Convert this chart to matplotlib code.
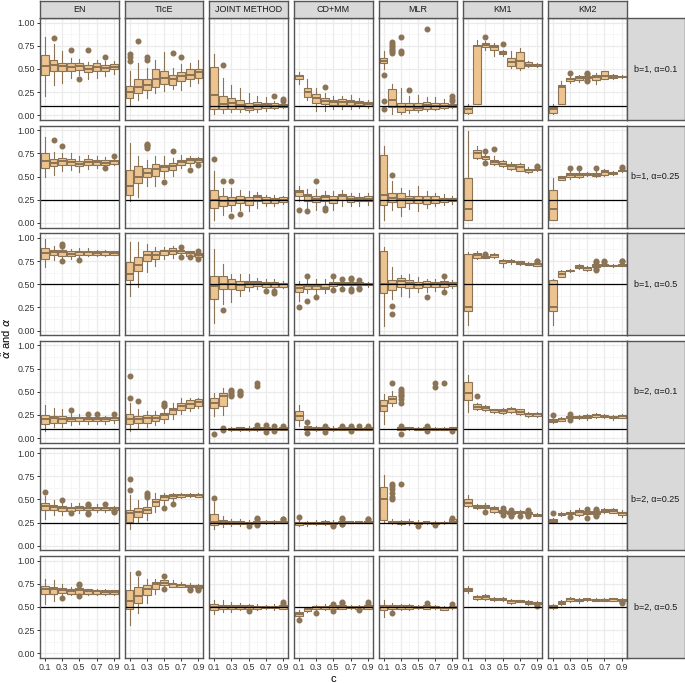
import matplotlib
matplotlib.use("Agg")
import matplotlib.pyplot as plt

plt.rcParams['font.family'] = ['Liberation Sans', 'DejaVu Sans']

c_values = [0.1, 0.2, 0.3, 0.4, 0.5, 0.6, 0.7, 0.8, 0.9]
c_tick_labels = ["0.1", "0.3", "0.5", "0.7", "0.9"]
methods = ["EN", "TIcE", "JOINT METHOD", "CD+MM", "MLR", "KM1", "KM2"]
row_labels = ["b=1, α=0.1", "b=1, α=0.25", "b=1, α=0.5",
              "b=2, α=0.1", "b=2, α=0.25", "b=2, α=0.5"]
alpha_true = [0.1, 0.25, 0.5, 0.1, 0.25, 0.5]
y_ticks = [0.00, 0.25, 0.50, 0.75, 1.00]

# box summaries per c: (whisker low, Q1, median, Q3, whisker high); outliers keyed by c
# ---------------- b=1, alpha=0.1 ----------------
EN_r1 = [(0.21, 0.43, 0.53, 0.65, 0.85), (0.33, 0.48, 0.54, 0.60, 0.77), (0.35, 0.48, 0.53, 0.57, 0.69),
         (0.40, 0.48, 0.52, 0.56, 0.62), (0.44, 0.49, 0.53, 0.57, 0.61), (0.39, 0.47, 0.50, 0.54, 0.58),
         (0.40, 0.48, 0.52, 0.56, 0.60), (0.42, 0.48, 0.51, 0.54, 0.59), (0.45, 0.50, 0.52, 0.55, 0.59)]
EN_r1_out = {0.2: [0.83], 0.4: [0.71], 0.5: [0.39], 0.6: [0.70], 0.8: [0.63]}
TIcE_r1 = [(0.11, 0.19, 0.25, 0.32, 0.48), (0.17, 0.24, 0.31, 0.39, 0.57), (0.19, 0.27, 0.33, 0.39, 0.51),
           (0.24, 0.31, 0.39, 0.50, 0.60), (0.26, 0.34, 0.40, 0.48, 0.68), (0.28, 0.33, 0.39, 0.44, 0.51),
           (0.27, 0.37, 0.42, 0.47, 0.55), (0.32, 0.39, 0.43, 0.50, 0.57), (0.35, 0.40, 0.47, 0.50, 0.60)]
TIcE_r1_out = {0.1: [0.59, 0.63, 0.66], 0.2: [0.80], 0.3: [0.60, 0.63], 0.6: [0.67], 0.7: [0.63]}
JOINT_r1 = [(0.01, 0.065, 0.215, 0.52, 0.66), (0.03, 0.065, 0.12, 0.21, 0.40), (0.035, 0.07, 0.13, 0.19, 0.33),
            (0.035, 0.065, 0.11, 0.165, 0.29), (0.035, 0.055, 0.08, 0.13, 0.24), (0.035, 0.065, 0.11, 0.14, 0.21),
            (0.05, 0.08, 0.11, 0.135, 0.20), (0.065, 0.08, 0.10, 0.13, 0.16), (0.075, 0.09, 0.10, 0.118, 0.14)]
JOINT_r1_out = {0.2: [0.54], 0.8: [0.21], 0.9: [0.16, 0.18]}
CDMM_r1 = [(0.34, 0.39, 0.42, 0.44, 0.47), (0.17, 0.20, 0.25, 0.29, 0.39), (0.05, 0.13, 0.19, 0.23, 0.30),
           (0.05, 0.12, 0.15, 0.19, 0.24), (0.065, 0.11, 0.14, 0.17, 0.21), (0.065, 0.115, 0.14, 0.175, 0.21),
           (0.07, 0.11, 0.14, 0.17, 0.215), (0.08, 0.11, 0.13, 0.16, 0.19), (0.08, 0.10, 0.12, 0.14, 0.17)]
CDMM_r1_out = {0.4: [0.31]}
MLR_r1 = [(0.50, 0.56, 0.59, 0.62, 0.69), (0.02, 0.09, 0.17, 0.28, 0.34), (0.02, 0.035, 0.09, 0.135, 0.30),
          (0.03, 0.055, 0.09, 0.135, 0.21), (0.035, 0.055, 0.08, 0.13, 0.225), (0.045, 0.07, 0.11, 0.14, 0.20),
          (0.055, 0.07, 0.10, 0.13, 0.195), (0.065, 0.08, 0.10, 0.13, 0.18), (0.08, 0.09, 0.105, 0.12, 0.136)]
MLR_r1_out = {0.1: [0.43, 0.155, 0.07], 0.2: [0.67, 0.69, 0.71, 0.73, 0.75, 0.77, 0.79],
              0.3: [0.67, 0.69, 0.84], 0.4: [0.27], 0.6: [0.93], 0.9: [0.15, 0.18, 0.21]}
KM1_r1 = [(0.018, 0.029, 0.065, 0.10, 0.118), (0.125, 0.125, 0.746, 0.763, 0.817), (0.71, 0.738, 0.763, 0.78, 0.80),
          (0.638, 0.71, 0.735, 0.763, 0.78), (0.638, 0.663, 0.674, 0.69, 0.71), (0.513, 0.53, 0.573, 0.62, 0.69),
          (0.484, 0.513, 0.584, 0.685, 0.727), (0.52, 0.53, 0.548, 0.573, 0.584), (0.524, 0.53, 0.541, 0.556, 0.566)]
KM1_r1_out = {0.3: [0.84], 0.5: [0.774]}
KM2_r1 = [(0.018, 0.029, 0.065, 0.093, 0.118), (0.125, 0.125, 0.305, 0.323, 0.369), (0.35, 0.373, 0.387, 0.40, 0.43),
          (0.36, 0.376, 0.40, 0.423, 0.44), (0.39, 0.40, 0.41, 0.425, 0.43), (0.34, 0.376, 0.416, 0.44, 0.459),
          (0.387, 0.387, 0.423, 0.477, 0.48), (0.39, 0.398, 0.416, 0.434, 0.441), (0.405, 0.412, 0.419, 0.426, 0.43)]
KM2_r1_out = {0.3: [0.452], 0.5: [0.375, 0.385, 0.445, 0.455]}

# ---------------- b=1, alpha=0.25 ----------------
EN_r2 = [(0.50, 0.59, 0.665, 0.75, 0.93), (0.52, 0.61, 0.647, 0.69, 0.77), (0.557, 0.62, 0.665, 0.70, 0.755),
         (0.575, 0.622, 0.658, 0.694, 0.755), (0.547, 0.61, 0.64, 0.665, 0.72), (0.583, 0.63, 0.658, 0.69, 0.737),
         (0.594, 0.63, 0.658, 0.683, 0.72), (0.61, 0.622, 0.647, 0.676, 0.709), (0.63, 0.64, 0.665, 0.683, 0.70)]
EN_r2_out = {0.2: [0.89], 0.3: [0.835], 0.8: [0.59], 0.9: [0.727]}
TIcE_r2 = [(0.234, 0.306, 0.403, 0.575, 0.863), (0.277, 0.432, 0.493, 0.61, 0.72), (0.396, 0.493, 0.54, 0.594, 0.683),
           (0.396, 0.504, 0.583, 0.637, 0.72), (0.486, 0.558, 0.60, 0.63, 0.72), (0.504, 0.568, 0.61, 0.647, 0.705),
           (0.594, 0.622, 0.655, 0.683, 0.737), (0.61, 0.647, 0.683, 0.70, 0.72), (0.647, 0.658, 0.683, 0.70, 0.709)]
TIcE_r2_out = {0.3: [0.81, 0.825, 0.84, 0.855], 0.5: [0.439], 0.6: [0.773], 0.8: [0.575], 0.9: [0.63]}
JOINT_r2 = [(0.03, 0.162, 0.252, 0.36, 0.558), (0.09, 0.187, 0.241, 0.288, 0.378), (0.126, 0.198, 0.234, 0.28, 0.378),
            (0.144, 0.216, 0.252, 0.288, 0.36), (0.126, 0.198, 0.234, 0.28, 0.342), (0.162, 0.241, 0.277, 0.30, 0.331),
            (0.18, 0.216, 0.252, 0.28, 0.306), (0.18, 0.216, 0.245, 0.27, 0.306), (0.209, 0.227, 0.252, 0.277, 0.288)]
JOINT_r2_out = {0.1: [0.69], 0.2: [0.457], 0.3: [0.457, 0.08], 0.4: [0.097]}
CDMM_r2 = [(0.234, 0.288, 0.331, 0.36, 0.403), (0.162, 0.234, 0.288, 0.317, 0.367), (0.144, 0.223, 0.259, 0.295, 0.367),
           (0.18, 0.234, 0.28, 0.306, 0.342), (0.144, 0.216, 0.252, 0.288, 0.342), (0.18, 0.252, 0.288, 0.313, 0.36),
           (0.18, 0.227, 0.259, 0.288, 0.324), (0.187, 0.234, 0.259, 0.28, 0.324), (0.198, 0.234, 0.263, 0.288, 0.324)]
CDMM_r2_out = {0.1: [0.144], 0.2: [0.126], 0.3: [0.45], 0.4: [0.137, 0.162]}
MLR_r2 = [(0.03, 0.198, 0.306, 0.737, 0.827), (0.144, 0.223, 0.27, 0.324, 0.45), (0.08, 0.173, 0.259, 0.324, 0.378),
          (0.151, 0.216, 0.259, 0.295, 0.36), (0.126, 0.216, 0.252, 0.295, 0.396), (0.162, 0.209, 0.252, 0.295, 0.342),
          (0.18, 0.216, 0.252, 0.288, 0.324), (0.198, 0.227, 0.252, 0.27, 0.313), (0.209, 0.234, 0.252, 0.27, 0.295)]
MLR_r2_out = {0.2: [0.52]}
KM1_r2 = [(0.036, 0.036, 0.151, 0.486, 0.99), (0.691, 0.70, 0.755, 0.784, 0.827), (0.66, 0.69, 0.709, 0.727, 0.76),
          (0.63, 0.64, 0.658, 0.683, 0.72), (0.60, 0.61, 0.64, 0.665, 0.683), (0.568, 0.583, 0.619, 0.637, 0.658),
          (0.558, 0.558, 0.60, 0.637, 0.647), (0.54, 0.55, 0.568, 0.586, 0.601), (0.565, 0.57, 0.576, 0.585, 0.595)]
KM1_r2_out = {0.3: [0.78, 0.647], 0.4: [0.80], 0.9: [0.605, 0.61]}
KM2_r2 = [(0.036, 0.036, 0.151, 0.36, 0.486), (0.46, 0.468, 0.486, 0.504, 0.511), (0.478, 0.493, 0.522, 0.54, 0.576),
          (0.486, 0.493, 0.514, 0.54, 0.568), (0.511, 0.515, 0.53, 0.54, 0.547), (0.493, 0.504, 0.522, 0.54, 0.558),
          (0.504, 0.522, 0.547, 0.568, 0.583), (0.522, 0.525, 0.54, 0.55, 0.558), (0.55, 0.558, 0.565, 0.576, 0.585)]
KM2_r2_out = {0.3: [0.594], 0.4: [0.594], 0.6: [0.594], 0.9: [0.594, 0.60]}

# ---------------- b=1, alpha=0.5 ----------------
EN_r3 = [(0.69, 0.773, 0.835, 0.892, 0.99), (0.763, 0.81, 0.845, 0.87, 0.917), (0.784, 0.80, 0.845, 0.87, 0.90),
         (0.773, 0.80, 0.827, 0.856, 0.881), (0.79, 0.81, 0.845, 0.863, 0.89), (0.80, 0.82, 0.845, 0.863, 0.888),
         (0.80, 0.82, 0.835, 0.856, 0.87), (0.80, 0.817, 0.845, 0.86, 0.87), (0.81, 0.82, 0.838, 0.856, 0.863)]
EN_r3_out = {0.3: [0.748, 0.91, 0.935], 0.5: [0.766]}
TIcE_r3 = [(0.378, 0.54, 0.61, 0.737, 0.953), (0.475, 0.647, 0.712, 0.79, 0.953), (0.63, 0.745, 0.81, 0.863, 0.935),
           (0.70, 0.773, 0.81, 0.856, 0.90), (0.773, 0.82, 0.853, 0.87, 0.90), (0.784, 0.827, 0.863, 0.892, 0.91),
           (0.81, 0.835, 0.853, 0.863, 0.881), (0.80, 0.80, 0.835, 0.853, 0.863), (0.784, 0.79, 0.816, 0.835, 0.845)]
TIcE_r3_out = {0.7: [0.90, 0.79], 0.8: [0.79], 0.9: [0.856, 0.773]}
JOINT_r3 = [(0.086, 0.345, 0.482, 0.59, 0.878), (0.284, 0.453, 0.50, 0.59, 0.723), (0.31, 0.446, 0.50, 0.554, 0.615),
            (0.374, 0.439, 0.493, 0.536, 0.608), (0.428, 0.475, 0.51, 0.536, 0.615), (0.446, 0.482, 0.518, 0.536, 0.57),
            (0.446, 0.475, 0.50, 0.525, 0.554), (0.453, 0.475, 0.50, 0.529, 0.554), (0.464, 0.475, 0.50, 0.518, 0.536)]
JOINT_r3_out = {0.2: [0.22], 0.7: [0.428], 0.8: [0.428, 0.41]}
CDMM_r3 = [(0.32, 0.417, 0.464, 0.493, 0.536), (0.41, 0.453, 0.482, 0.507, 0.554), (0.39, 0.446, 0.482, 0.50, 0.554),
           (0.41, 0.446, 0.464, 0.50, 0.561), (0.464, 0.482, 0.507, 0.525, 0.554), (0.471, 0.489, 0.511, 0.529, 0.536),
           (0.464, 0.489, 0.507, 0.529, 0.543), (0.471, 0.489, 0.507, 0.525, 0.54), (0.475, 0.489, 0.50, 0.518, 0.525)]
CDMM_r3_out = {0.1: [0.259], 0.2: [0.59, 0.32], 0.3: [0.367], 0.5: [0.59, 0.439], 0.6: [0.554, 0.446],
               0.7: [0.554, 0.565, 0.446, 0.43], 0.8: [0.55, 0.46, 0.446]}
MLR_r3 = [(0.054, 0.406, 0.504, 0.856, 0.906), (0.342, 0.439, 0.504, 0.547, 0.69), (0.378, 0.475, 0.532, 0.565, 0.604),
          (0.367, 0.461, 0.511, 0.547, 0.612), (0.414, 0.457, 0.496, 0.529, 0.583), (0.414, 0.468, 0.504, 0.532, 0.558),
          (0.432, 0.475, 0.504, 0.529, 0.558), (0.45, 0.475, 0.511, 0.532, 0.558), (0.457, 0.478, 0.504, 0.525, 0.547)]
MLR_r3_out = {0.2: [0.263, 0.18], 0.6: [0.367], 0.8: [0.586, 0.414]}
KM1_r3 = [(0.065, 0.216, 0.252, 0.827, 0.845), (0.77, 0.78, 0.81, 0.838, 0.856), (0.78, 0.78, 0.79, 0.80, 0.81),
          (0.78, 0.79, 0.81, 0.827, 0.838), (0.69, 0.73, 0.748, 0.766, 0.773), (0.72, 0.738, 0.748, 0.755, 0.773),
          (0.712, 0.72, 0.73, 0.745, 0.755), (0.71, 0.712, 0.723, 0.734, 0.741), (0.70, 0.70, 0.716, 0.727, 0.74)]
KM1_r3_out = {0.3: [0.82, 0.826], 0.9: [0.748, 0.755]}
KM2_r3 = [(0.065, 0.216, 0.252, 0.54, 0.558), (0.576, 0.583, 0.61, 0.64, 0.655), (0.631, 0.637, 0.647, 0.655, 0.662),
          (0.665, 0.673, 0.69, 0.712, 0.72), (0.637, 0.655, 0.673, 0.69, 0.70), (0.665, 0.683, 0.70, 0.72, 0.73),
          (0.70, 0.70, 0.705, 0.72, 0.73), (0.69, 0.695, 0.70, 0.709, 0.72), (0.70, 0.70, 0.709, 0.723, 0.73)]
KM2_r3_out = {0.6: [0.655, 0.66, 0.74, 0.745], 0.7: [0.74, 0.745], 0.9: [0.745, 0.75]}

# ---------------- b=2, alpha=0.1 ----------------
EN_r4 = [(0.072, 0.15, 0.211, 0.25, 0.358), (0.115, 0.168, 0.215, 0.24, 0.33), (0.122, 0.168, 0.211, 0.24, 0.315),
         (0.143, 0.18, 0.204, 0.233, 0.276), (0.15, 0.186, 0.215, 0.233, 0.265), (0.158, 0.186, 0.204, 0.229, 0.247),
         (0.15, 0.186, 0.211, 0.233, 0.247), (0.158, 0.186, 0.204, 0.229, 0.24), (0.168, 0.193, 0.215, 0.233, 0.247)]
EN_r4_out = {0.4: [0.30], 0.6: [0.265], 0.7: [0.265], 0.9: [0.265]}
TIcE_r4 = [(0.079, 0.15, 0.211, 0.258, 0.384), (0.108, 0.16, 0.204, 0.24, 0.312), (0.115, 0.168, 0.215, 0.247, 0.294),
           (0.143, 0.186, 0.222, 0.25, 0.294), (0.168, 0.211, 0.247, 0.269, 0.33), (0.204, 0.258, 0.30, 0.33, 0.384),
           (0.258, 0.30, 0.348, 0.376, 0.437), (0.294, 0.33, 0.373, 0.409, 0.437), (0.33, 0.348, 0.39, 0.42, 0.437)]
TIcE_r4_out = {0.1: [0.67, 0.437], 0.2: [0.40], 0.5: [0.348, 0.36, 0.376]}
JOINT_r4 = [(0.237, 0.326, 0.38, 0.434, 0.487), (0.254, 0.344, 0.452, 0.487, 0.54), (0.075, 0.086, 0.10, 0.111, 0.122),
            (0.082, 0.093, 0.104, 0.115, 0.125), (0.075, 0.09, 0.10, 0.111, 0.129), (0.08, 0.086, 0.104, 0.118, 0.125),
            (0.086, 0.086, 0.10, 0.115, 0.125), (0.09, 0.09, 0.10, 0.111, 0.12), (0.09, 0.09, 0.10, 0.115, 0.12)]
JOINT_r4_out = {0.1: [0.05], 0.2: [0.11, 0.086], 0.3: [0.45, 0.47, 0.49, 0.51, 0.52], 0.4: [0.47, 0.48, 0.50, 0.51],
                0.6: [0.14, 0.56, 0.60], 0.7: [0.14, 0.07], 0.8: [0.13, 0.08], 0.9: [0.13]}
CDMM_r4 = [(0.136, 0.194, 0.24, 0.29, 0.362), (0.075, 0.086, 0.111, 0.129, 0.14), (0.082, 0.093, 0.104, 0.115, 0.129),
           (0.086, 0.093, 0.104, 0.115, 0.12), (0.082, 0.093, 0.10, 0.111, 0.129), (0.086, 0.093, 0.104, 0.115, 0.12),
           (0.086, 0.093, 0.104, 0.115, 0.12), (0.086, 0.093, 0.10, 0.111, 0.12), (0.086, 0.093, 0.104, 0.115, 0.12)]
CDMM_r4_out = {0.2: [0.172, 0.057], 0.4: [0.13, 0.07], 0.6: [0.136], 0.7: [0.13, 0.08], 0.8: [0.129], 0.9: [0.129]}
MLR_r4 = [(0.15, 0.294, 0.348, 0.409, 0.473), (0.348, 0.384, 0.42, 0.455, 0.509), (0.086, 0.09, 0.104, 0.115, 0.12),
          (0.086, 0.097, 0.104, 0.115, 0.125), (0.086, 0.093, 0.104, 0.111, 0.125), (0.09, 0.093, 0.104, 0.115, 0.12),
          (0.09, 0.093, 0.10, 0.111, 0.12), (0.09, 0.093, 0.10, 0.111, 0.12), (0.09, 0.093, 0.104, 0.115, 0.12)]
MLR_r4_out = {0.2: [0.60], 0.3: [0.38, 0.42, 0.45, 0.47, 0.49, 0.51, 0.53, 0.135, 0.043], 0.6: [0.13, 0.078],
              0.7: [0.60, 0.556], 0.8: [0.59], 0.9: [0.078]}
KM1_r4 = [(0.287, 0.409, 0.491, 0.609, 0.681), (0.30, 0.312, 0.34, 0.366, 0.376), (0.294, 0.301, 0.323, 0.348, 0.358),
          (0.276, 0.287, 0.30, 0.312, 0.319), (0.265, 0.276, 0.294, 0.312, 0.323), (0.269, 0.283, 0.312, 0.33, 0.337),
          (0.251, 0.258, 0.287, 0.312, 0.319), (0.233, 0.24, 0.258, 0.276, 0.283), (0.233, 0.24, 0.258, 0.276, 0.287)]
KM1_r4_out = {0.2: [0.452]}
KM2_r4 = [(0.165, 0.176, 0.186, 0.204, 0.215), (0.18, 0.186, 0.204, 0.222, 0.229), (0.204, 0.215, 0.229, 0.24, 0.24),
          (0.204, 0.215, 0.229, 0.24, 0.251), (0.194, 0.215, 0.229, 0.247, 0.258), (0.215, 0.229, 0.247, 0.258, 0.269),
          (0.222, 0.229, 0.237, 0.247, 0.258), (0.197, 0.215, 0.229, 0.24, 0.251), (0.215, 0.222, 0.237, 0.247, 0.258)]
KM2_r4_out = {0.1: [0.25], 0.3: [0.258, 0.194]}

# ---------------- b=2, alpha=0.25 ----------------
EN_r5 = [(0.286, 0.386, 0.429, 0.464, 0.536), (0.332, 0.386, 0.421, 0.44, 0.493), (0.332, 0.379, 0.41, 0.429, 0.457),
         (0.368, 0.379, 0.404, 0.421, 0.457), (0.35, 0.386, 0.41, 0.429, 0.457), (0.372, 0.386, 0.404, 0.421, 0.43),
         (0.368, 0.386, 0.404, 0.421, 0.446), (0.368, 0.386, 0.404, 0.421, 0.432), (0.38, 0.386, 0.404, 0.421, 0.43)]
EN_r5_out = {0.1: [0.582], 0.3: [0.493], 0.4: [0.35], 0.6: [0.44, 0.45, 0.355, 0.34], 0.8: [0.45], 0.9: [0.37, 0.36]}
TIcE_r5 = [(0.179, 0.26, 0.35, 0.386, 0.546), (0.243, 0.314, 0.368, 0.404, 0.493), (0.279, 0.35, 0.386, 0.421, 0.493),
           (0.368, 0.429, 0.475, 0.50, 0.564), (0.439, 0.493, 0.529, 0.546, 0.564), (0.482, 0.51, 0.54, 0.557, 0.571),
           (0.511, 0.529, 0.546, 0.557, 0.571), (0.521, 0.536, 0.546, 0.557, 0.571), (0.521, 0.529, 0.543, 0.557, 0.564)]
TIcE_r5_out = {0.1: [0.725, 0.60], 0.3: [0.529, 0.545, 0.564], 0.5: [0.41], 0.6: [0.446]}
JOINT_r5 = [(0.179, 0.225, 0.26, 0.343, 0.475), (0.207, 0.236, 0.254, 0.279, 0.32), (0.214, 0.236, 0.254, 0.271, 0.286),
            (0.214, 0.232, 0.25, 0.268, 0.286), (0.232, 0.232, 0.25, 0.261, 0.279), (0.24, 0.243, 0.257, 0.271, 0.279),
            (0.232, 0.243, 0.254, 0.264, 0.279), (0.232, 0.243, 0.254, 0.264, 0.279), (0.243, 0.243, 0.254, 0.268, 0.275)]
JOINT_r5_out = {0.1: [0.51], 0.5: [0.214], 0.6: [0.296, 0.29, 0.23, 0.225], 0.9: [0.286, 0.29]}
CDMM_r5 = [(0.214, 0.225, 0.243, 0.26, 0.279), (0.214, 0.236, 0.246, 0.257, 0.271), (0.225, 0.236, 0.25, 0.261, 0.279),
           (0.225, 0.236, 0.25, 0.264, 0.279), (0.236, 0.236, 0.25, 0.261, 0.279), (0.243, 0.246, 0.254, 0.268, 0.275),
           (0.243, 0.243, 0.254, 0.261, 0.268), (0.243, 0.243, 0.254, 0.261, 0.268), (0.243, 0.243, 0.254, 0.268, 0.275)]
CDMM_r5_out = {0.1: [0.307], 0.5: [0.225, 0.214], 0.6: [0.296, 0.29, 0.236, 0.23], 0.9: [0.286, 0.29]}
MLR_r5 = [(0.26, 0.279, 0.50, 0.636, 0.76), (0.232, 0.243, 0.257, 0.271, 0.286), (0.225, 0.239, 0.254, 0.268, 0.279),
          (0.225, 0.243, 0.254, 0.271, 0.286), (0.236, 0.239, 0.25, 0.261, 0.275), (0.236, 0.243, 0.254, 0.261, 0.268),
          (0.236, 0.236, 0.25, 0.261, 0.268), (0.236, 0.243, 0.25, 0.261, 0.268), (0.245, 0.25, 0.26, 0.286, 0.29)]
MLR_r5_out = {0.2: [0.50, 0.53, 0.57, 0.61, 0.64, 0.67], 0.3: [0.664], 0.5: [0.214], 0.7: [0.225], 0.9: [0.30]}
KM1_r5 = [(0.414, 0.429, 0.464, 0.50, 0.546), (0.40, 0.41, 0.421, 0.44, 0.45), (0.386, 0.404, 0.421, 0.439, 0.457),
          (0.357, 0.368, 0.393, 0.414, 0.429), (0.346, 0.35, 0.368, 0.386, 0.39), (0.343, 0.343, 0.357, 0.375, 0.38),
          (0.336, 0.35, 0.36, 0.375, 0.386), (0.343, 0.343, 0.357, 0.368, 0.375), (0.321, 0.325, 0.332, 0.343, 0.35)]
KM1_r5_out = {0.3: [0.368], 0.5: [0.404, 0.332], 0.6: [0.386, 0.332, 0.325], 0.7: [0.325],
              0.8: [0.379, 0.386, 0.332, 0.325]}
KM2_r5 = [(0.25, 0.257, 0.271, 0.286, 0.296), (0.321, 0.332, 0.343, 0.357, 0.368), (0.325, 0.339, 0.35, 0.368, 0.386),
          (0.321, 0.332, 0.36, 0.386, 0.404), (0.325, 0.339, 0.357, 0.375, 0.386), (0.336, 0.339, 0.357, 0.375, 0.386),
          (0.35, 0.364, 0.379, 0.393, 0.404), (0.35, 0.357, 0.375, 0.393, 0.404), (0.314, 0.332, 0.35, 0.368, 0.386)]
KM2_r5_out = {0.1: [0.35], 0.3: [0.307], 0.5: [0.30, 0.40], 0.6: [0.40, 0.39, 0.33, 0.325]}

# ---------------- b=2, alpha=0.5 ----------------
EN_r6 = [(0.536, 0.636, 0.69, 0.73, 0.80), (0.57, 0.643, 0.69, 0.72, 0.786), (0.614, 0.65, 0.686, 0.707, 0.75),
         (0.629, 0.643, 0.67, 0.696, 0.714), (0.629, 0.643, 0.679, 0.704, 0.714), (0.629, 0.636, 0.668, 0.689, 0.696),
         (0.629, 0.643, 0.671, 0.686, 0.696), (0.629, 0.643, 0.661, 0.679, 0.689), (0.632, 0.643, 0.661, 0.679, 0.686)]
EN_r6_out = {0.3: [0.596], 0.5: [0.75, 0.735, 0.614]}
TIcE_r6 = [(0.304, 0.482, 0.57, 0.686, 0.882), (0.436, 0.543, 0.614, 0.714, 0.821), (0.543, 0.632, 0.69, 0.732, 0.804),
           (0.643, 0.696, 0.743, 0.768, 0.804), (0.725, 0.732, 0.757, 0.786, 0.804), (0.711, 0.721, 0.743, 0.757, 0.786),
           (0.711, 0.721, 0.736, 0.75, 0.768), (0.70, 0.714, 0.725, 0.739, 0.757), (0.69, 0.704, 0.714, 0.732, 0.75)]
TIcE_r6_out = {0.2: [0.864], 0.5: [0.832, 0.69], 0.8: [0.69, 0.68], 0.9: [0.68, 0.69]}
JOINT_r6 = [(0.421, 0.464, 0.50, 0.536, 0.579), (0.446, 0.475, 0.50, 0.518, 0.571), (0.446, 0.475, 0.50, 0.518, 0.554),
            (0.464, 0.482, 0.50, 0.518, 0.543), (0.475, 0.482, 0.50, 0.518, 0.536), (0.464, 0.482, 0.50, 0.511, 0.536),
            (0.475, 0.486, 0.50, 0.507, 0.525), (0.471, 0.486, 0.50, 0.514, 0.529), (0.475, 0.482, 0.50, 0.518, 0.525)]
JOINT_r6_out = {0.5: [0.457], 0.9: [0.536, 0.55]}
CDMM_r6 = [(0.393, 0.40, 0.421, 0.446, 0.464), (0.446, 0.457, 0.475, 0.489, 0.50), (0.471, 0.482, 0.50, 0.511, 0.525),
           (0.464, 0.482, 0.496, 0.511, 0.529), (0.475, 0.482, 0.50, 0.518, 0.529), (0.475, 0.482, 0.50, 0.518, 0.529),
           (0.482, 0.486, 0.50, 0.511, 0.518), (0.475, 0.482, 0.496, 0.511, 0.518), (0.475, 0.482, 0.50, 0.518, 0.525)]
CDMM_r6_out = {0.1: [0.357], 0.3: [0.436], 0.5: [0.536, 0.457], 0.6: [0.54, 0.55], 0.8: [0.465], 0.9: [0.536, 0.55]}
MLR_r6 = [(0.393, 0.464, 0.50, 0.518, 0.571), (0.464, 0.482, 0.50, 0.518, 0.543), (0.464, 0.482, 0.50, 0.518, 0.536),
          (0.471, 0.482, 0.50, 0.518, 0.529), (0.475, 0.486, 0.50, 0.514, 0.525), (0.475, 0.482, 0.50, 0.518, 0.525),
          (0.479, 0.486, 0.50, 0.514, 0.521), (0.464, 0.471, 0.486, 0.50, 0.507), (0.479, 0.489, 0.50, 0.514, 0.521)]
MLR_r6_out = {0.2: [0.436], 0.6: [0.543], 0.9: [0.532]}
KM1_r6 = [(0.65, 0.668, 0.686, 0.704, 0.73), (0.575, 0.589, 0.604, 0.618, 0.625), (0.571, 0.589, 0.607, 0.625, 0.643),
          (0.564, 0.571, 0.586, 0.60, 0.607), (0.564, 0.571, 0.586, 0.60, 0.607), (0.536, 0.543, 0.56, 0.579, 0.586),
          (0.55, 0.55, 0.56, 0.571, 0.579), (0.525, 0.536, 0.546, 0.561, 0.571), (0.50, 0.529, 0.543, 0.554, 0.56)]
KM1_r6_out = {0.9: [0.518, 0.51]}
KM2_r6 = [(0.482, 0.493, 0.507, 0.518, 0.529), (0.518, 0.529, 0.543, 0.561, 0.579), (0.554, 0.564, 0.582, 0.596, 0.607),
          (0.546, 0.564, 0.579, 0.589, 0.596), (0.564, 0.571, 0.582, 0.589, 0.596), (0.564, 0.564, 0.575, 0.586, 0.593),
          (0.564, 0.568, 0.579, 0.586, 0.593), (0.564, 0.568, 0.582, 0.593, 0.60), (0.529, 0.564, 0.579, 0.589, 0.593)]
KM2_r6_out = {0.9: [0.54, 0.55]}

grid = [
    [(EN_r1, EN_r1_out), (TIcE_r1, TIcE_r1_out), (JOINT_r1, JOINT_r1_out), (CDMM_r1, CDMM_r1_out),
     (MLR_r1, MLR_r1_out), (KM1_r1, KM1_r1_out), (KM2_r1, KM2_r1_out)],
    [(EN_r2, EN_r2_out), (TIcE_r2, TIcE_r2_out), (JOINT_r2, JOINT_r2_out), (CDMM_r2, CDMM_r2_out),
     (MLR_r2, MLR_r2_out), (KM1_r2, KM1_r2_out), (KM2_r2, KM2_r2_out)],
    [(EN_r3, EN_r3_out), (TIcE_r3, TIcE_r3_out), (JOINT_r3, JOINT_r3_out), (CDMM_r3, CDMM_r3_out),
     (MLR_r3, MLR_r3_out), (KM1_r3, KM1_r3_out), (KM2_r3, KM2_r3_out)],
    [(EN_r4, EN_r4_out), (TIcE_r4, TIcE_r4_out), (JOINT_r4, JOINT_r4_out), (CDMM_r4, CDMM_r4_out),
     (MLR_r4, MLR_r4_out), (KM1_r4, KM1_r4_out), (KM2_r4, KM2_r4_out)],
    [(EN_r5, EN_r5_out), (TIcE_r5, TIcE_r5_out), (JOINT_r5, JOINT_r5_out), (CDMM_r5, CDMM_r5_out),
     (MLR_r5, MLR_r5_out), (KM1_r5, KM1_r5_out), (KM2_r5, KM2_r5_out)],
    [(EN_r6, EN_r6_out), (TIcE_r6, TIcE_r6_out), (JOINT_r6, JOINT_r6_out), (CDMM_r6, CDMM_r6_out),
     (MLR_r6, MLR_r6_out), (KM1_r6, KM1_r6_out), (KM2_r6, KM2_r6_out)],
]

# ---------------- layout (pixels) ----------------
W, H = 685, 683
fig = plt.figure(figsize=(W / 100, H / 100), dpi=100)
fig.patch.set_facecolor('white')

left0, pw, colstep = 40.0, 78.7, 84.65
top0, ph, rowstep = 18.0, 102.0, 107.6
strip_h = 17.5
rstrip_w = 57.9

FILL = '#EDC48F'
EDGE = '#8B7355'
BORDER = '#555555'
STRIP = '#D9D9D9'
GRID_MAJ = '#EBEBEB'
GRID_MIN = '#F4F4F4'

def rect(x, y, w, h):
    return [x / W, 1 - (y + h) / H, w / W, h / H]

for i in range(6):
    top = top0 + i * rowstep
    for j in range(7):
        x = left0 + j * colstep
        ax = fig.add_axes(rect(x, top, pw, ph))
        ax.set_xlim(0.043, 0.957)
        ax.set_ylim(-0.05, 1.05)
        for v in [0.1, 0.3, 0.5, 0.7, 0.9]:
            ax.axvline(v, color=GRID_MAJ, lw=0.9, zorder=0)
        for v in [0.2, 0.4, 0.6, 0.8]:
            ax.axvline(v, color=GRID_MIN, lw=0.5, zorder=0)
        for v in y_ticks:
            ax.axhline(v, color=GRID_MAJ, lw=0.9, zorder=0)
        for v in [0.125, 0.375, 0.625, 0.875]:
            ax.axhline(v, color=GRID_MIN, lw=0.5, zorder=0)

        boxes, outs = grid[i][j]
        stats = []
        for c, (lo, q1, med, q3, hi) in zip(c_values, boxes):
            stats.append({'whislo': lo, 'q1': q1, 'med': med, 'q3': q3, 'whishi': hi,
                          'fliers': outs.get(c, [])})
        ax.bxp(stats, positions=c_values, widths=0.09, patch_artist=True,
               showcaps=False, showfliers=True, manage_ticks=False,
               boxprops=dict(facecolor=FILL, edgecolor=EDGE, linewidth=0.8),
               medianprops=dict(color=EDGE, linewidth=1.4),
               whiskerprops=dict(color=EDGE, linewidth=0.8),
               flierprops=dict(marker='o', markerfacecolor=EDGE, markeredgecolor=EDGE,
                               markersize=3.3, linestyle='none'),
               zorder=2)
        ax.axhline(alpha_true[i], color='black', lw=0.9, zorder=3)

        for s in ax.spines.values():
            s.set_color(BORDER)
            s.set_linewidth(1.0)
            s.set_zorder(5)
        ax.set_xticks([0.1, 0.3, 0.5, 0.7, 0.9])
        ax.set_yticks(y_ticks)
        ax.tick_params(length=2.2, width=0.7, color='#333333', labelsize=6.4,
                       labelcolor='#333333', pad=1.5)
        if j == 0:
            ax.set_yticklabels([f"{v:.2f}" for v in y_ticks])
        else:
            ax.tick_params(axis='y', left=False, labelleft=False)
        if i == 5:
            ax.set_xticklabels(c_tick_labels)
        else:
            ax.tick_params(axis='x', bottom=False, labelbottom=False)

        if i == 0:
            sax = fig.add_axes(rect(x, top - strip_h, pw, strip_h))
            sax.set_facecolor(STRIP)
            sax.set_xticks([]); sax.set_yticks([])
            for s in sax.spines.values():
                s.set_color(BORDER); s.set_linewidth(1.0)
            sax.text(0.5, 0.5, methods[j], ha='center', va='center', fontsize=6.5,
                     color='#1A1A1A', transform=sax.transAxes)

    rax = fig.add_axes(rect(left0 + 6 * colstep + pw, top, rstrip_w, ph))
    rax.set_facecolor(STRIP)
    rax.set_xticks([]); rax.set_yticks([])
    for s in rax.spines.values():
        s.set_color(BORDER); s.set_linewidth(1.0)
    rax.text(0.5, 0.5, row_labels[i], ha='center', va='center', fontsize=6.5,
             color='#1A1A1A', transform=rax.transAxes)

fig.text(6 / W, 1 - 338 / H, r'$\hat{\alpha}$ and $\alpha$', rotation=90,
         ha='center', va='center', fontsize=8)
fig.text((left0 + 6 * colstep + pw + left0) / 2 / W, 1 - 679 / H, 'c',
         ha='center', va='center', fontsize=8)

fig.savefig('out.png', dpi=100, facecolor='white')
